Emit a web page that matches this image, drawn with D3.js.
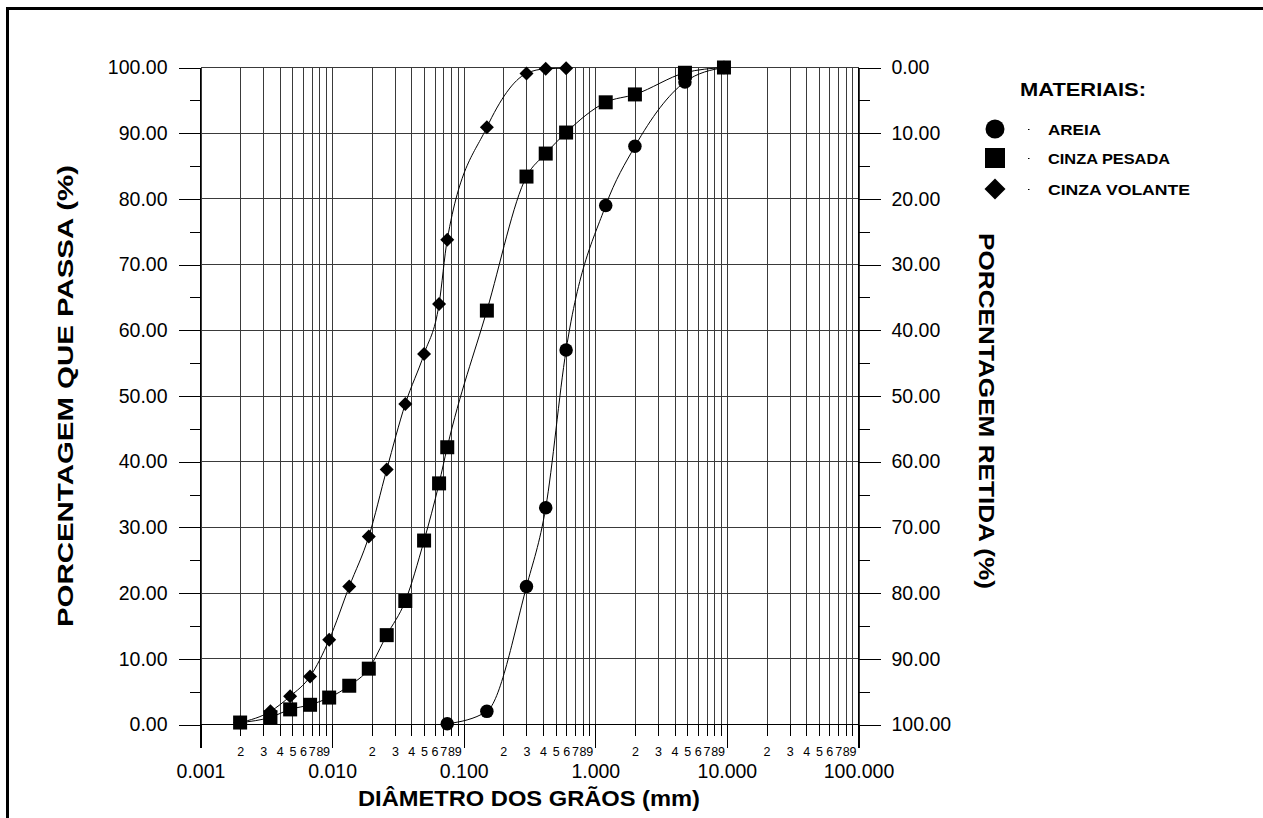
<!DOCTYPE html>
<html>
<head>
<meta charset="utf-8">
<script src="https://cdn.jsdelivr.net/npm/d3@7"></script>
<style>
  html, body { margin: 0; padding: 0; background: #fff; }
  svg { display: block; font-family: "Liberation Sans", Arial, sans-serif; }
</style>
</head>
<body>
<svg id="chart" width="1263" height="818"></svg>
<script>
// Grain-size distribution (curvas granulométricas)
const materials = ["AREIA", "CINZA PESADA", "CINZA VOLANTE"];

// AREIA (sieve analysis)
const areiaDiam = [0.075, 0.15, 0.30, 0.42, 0.60, 1.2, 2.0, 4.8, 9.5];
const areiaPass = [0.1, 2.0, 21.0, 33.0, 57.0, 79.0, 88.0, 97.8, 100.0];

// CINZA PESADA (sedimentation + sieves)
const pesadaDiam = [0.002, 0.0034, 0.0048, 0.0068, 0.0095, 0.0135, 0.019, 0.026, 0.036, 0.050, 0.065, 0.075, 0.15, 0.30, 0.42, 0.60, 1.2, 2.0, 4.8, 9.5];
const pesadaPass = [0.3, 1.1, 2.3, 3.0, 4.1, 5.9, 8.5, 13.6, 18.8, 28.0, 36.7, 42.2, 63.0, 83.4, 86.9, 90.1, 94.7, 95.9, 99.2, 100.0];

// CINZA VOLANTE (sedimentation + sieves)
const volanteDiam = [0.002, 0.0034, 0.0048, 0.0068, 0.0095, 0.0135, 0.019, 0.026, 0.036, 0.050, 0.065, 0.075, 0.15, 0.30, 0.42, 0.60];
const volantePass = [0.3, 2.0, 4.3, 7.3, 12.9, 21.0, 28.6, 38.8, 48.8, 56.4, 64.0, 73.8, 90.9, 99.1, 99.8, 99.9];

// Axis ticks
const decadeTicks = [0.001, 0.01, 0.1, 1, 10, 100];
const passTicks = [0, 10, 20, 30, 40, 50, 60, 70, 80, 90, 100];
const passMinorTicks = [5, 15, 25, 35, 45, 55, 65, 75, 85, 95];

const svg = d3.select("#chart");
const FONT = "'Liberation Sans', Arial, sans-serif";

const x = d3.scaleLog().domain([0.001, 100]).range([200.5, 858.5]);
const y = d3.scaleLinear().domain([0, 100]).range([724.5, 67.5]);

// every 1..9 x 10^k line inside the domain
const allLogLines = [];
decadeTicks.slice(0, -1).forEach(dec => {
  for (let m = 1; m <= 9; m++) allLogLines.push(+(dec * m).toPrecision(6));
});
allLogLines.push(100);
const minorLogTicks = allLogLines.filter(v => !decadeTicks.includes(v));

// outer frame (open on the right and bottom)
svg.append("path")
  .attr("d", "M7.5,830 V8.5 H1280")
  .attr("fill", "none").attr("stroke", "#000").attr("stroke-width", 3);

// grid
const grid = svg.append("g").attr("stroke", "#3a3a3a").attr("stroke-width", 1).attr("shape-rendering", "crispEdges");
grid.selectAll("line.v").data(allLogLines).join("line")
  .attr("x1", d => Math.round(x(d)) + 0.5).attr("x2", d => Math.round(x(d)) + 0.5)
  .attr("y1", y(100)).attr("y2", y(0));
grid.selectAll("line.h").data(passTicks).join("line")
  .attr("x1", x(0.001)).attr("x2", x(100))
  .attr("y1", d => y(d)).attr("y2", d => y(d));

// left axis: passing percentage
const leftMajor = svg.append("g").attr("transform", "translate(200.5,0)")
  .call(d3.axisLeft(y).tickValues(passTicks).tickSize(22).tickPadding(11).tickFormat(d3.format(".2f")));
const leftMinor = svg.append("g").attr("transform", "translate(200.5,0)")
  .call(d3.axisLeft(y).tickValues(passMinorTicks).tickSize(11).tickFormat(""));

// right axis: retained percentage
const yRet = d3.scaleLinear().domain([100, 0]).range([724.5, 67.5]);
const rightMajor = svg.append("g").attr("transform", "translate(858.5,0)")
  .call(d3.axisRight(yRet).tickValues(passTicks).tickSize(22).tickPadding(11).tickFormat(d3.format(".2f")));
const rightMinor = svg.append("g").attr("transform", "translate(858.5,0)")
  .call(d3.axisRight(yRet).tickValues(passMinorTicks).tickSize(11).tickFormat(""));

// bottom axis: decades and the 2..9 marks
const bottomMajor = svg.append("g").attr("transform", "translate(0,724.5)")
  .call(d3.axisBottom(x).tickValues(decadeTicks).tickSize(23).tickPadding(17)
    .tickFormat(d => d3.format(".3f")(d)));
const bottomMinor = svg.append("g").attr("transform", "translate(0,724.5)")
  .call(d3.axisBottom(x).tickValues(minorLogTicks).tickSize(11).tickPadding(12)
    .tickFormat(d => String(Math.round(d / Math.pow(10, Math.floor(Math.log10(d) + 1e-9))))));

[leftMajor, leftMinor, rightMajor, rightMinor, bottomMajor, bottomMinor].forEach(g => {
  g.select(".domain").remove();
  g.selectAll(".tick line").attr("stroke", "#000").attr("shape-rendering", "crispEdges");
  g.selectAll("text").attr("fill", "#000").attr("font-family", FONT);
});
[leftMajor, rightMajor, bottomMajor].forEach(g => g.selectAll("text").attr("font-size", 19.5));
bottomMinor.selectAll("text").attr("font-size", 12.5);

// axis lines (extended below the plot like decade ticks)
svg.append("g").attr("stroke", "#000").attr("shape-rendering", "crispEdges")
  .selectAll("line").data([0.001, 100]).join("line")
  .attr("x1", d => x(d)).attr("x2", d => x(d))
  .attr("y1", y(100)).attr("y2", y(0) + 23);
svg.append("line").attr("stroke", "#000").attr("shape-rendering", "crispEdges")
  .attr("x1", x(0.001)).attr("x2", x(100)).attr("y1", y(0)).attr("y2", y(0));

// axis titles
svg.append("text").attr("x", 529).attr("y", 806).attr("text-anchor", "middle")
  .attr("font-family", FONT).attr("font-weight", "bold").attr("font-size", 22)
  .attr("textLength", 342).attr("lengthAdjust", "spacingAndGlyphs")
  .text("DIÂMETRO DOS GRÃOS (mm)");
svg.append("text").attr("transform", "translate(73,396) rotate(-90)").attr("text-anchor", "middle")
  .attr("font-family", FONT).attr("font-weight", "bold").attr("font-size", 22)
  .attr("textLength", 462).attr("lengthAdjust", "spacingAndGlyphs")
  .text("PORCENTAGEM QUE PASSA (%)");
svg.append("text").attr("transform", "translate(979,411) rotate(90)").attr("text-anchor", "middle")
  .attr("font-family", FONT).attr("font-weight", "bold").attr("font-size", 22)
  .attr("textLength", 356).attr("lengthAdjust", "spacingAndGlyphs")
  .text("PORCENTAGEM RETIDA (%)");

// curves
const line = d3.line().x(d => x(d[0])).y(d => y(d[1])).curve(d3.curveMonotoneX);
const series = [
  { name: "CINZA VOLANTE", diam: volanteDiam, pass: volantePass, shape: "diamond" },
  { name: "AREIA", diam: areiaDiam, pass: areiaPass, shape: "circle" },
  { name: "CINZA PESADA", diam: pesadaDiam, pass: pesadaPass, shape: "square" }
];

function marker(sel, shape, s) {
  if (shape === "circle") return sel.append("circle").attr("r", s * 0.5);
  if (shape === "square") return sel.append("rect").attr("x", -s / 2).attr("y", -s / 2).attr("width", s).attr("height", s);
  const h = s * 0.5;
  return sel.append("path").attr("d", `M0,${-h}L${h},0L0,${h}L${-h},0Z`);
}

const curves = svg.append("g");
series.forEach(s => {
  const pts = s.diam.map((d, i) => [d, s.pass[i]]);
  curves.append("path").datum(pts).attr("d", line)
    .attr("fill", "none").attr("stroke", "#000").attr("stroke-width", 1);
});
const marks = svg.append("g");
series.forEach(s => {
  const sizes = { circle: 13.5, square: 14, diamond: 14 };
  s.diam.forEach((d, i) => {
    const g = marks.append("g").attr("transform", `translate(${x(d)},${y(s.pass[i])})`);
    marker(g, s.shape, sizes[s.shape]).attr("fill", "#000");
  });
});

// legend
const legend = svg.append("g").attr("font-family", FONT).attr("font-weight", "bold");
legend.append("text").attr("x", 1020).attr("y", 96).attr("font-size", 17.5)
  .attr("textLength", 126).attr("lengthAdjust", "spacingAndGlyphs").text("MATERIAIS:");
const legendItems = [
  { name: "AREIA", shape: "circle", cy: 129, len: 53 },
  { name: "CINZA PESADA", shape: "square", cy: 158, len: 122 },
  { name: "CINZA VOLANTE", shape: "diamond", cy: 189, len: 142 }
];
legendItems.forEach(it => {
  const g = legend.append("g").attr("transform", `translate(995,${it.cy})`);
  marker(g, it.shape, it.shape === "circle" ? 19 : it.shape === "square" ? 20 : 21).attr("fill", "#000");
  legend.append("line").attr("x1", 1028).attr("x2", 1029.5).attr("y1", it.cy + 0.5).attr("y2", it.cy + 0.5)
    .attr("stroke", "#000").attr("stroke-width", 1);
  legend.append("text").attr("x", 1048).attr("y", it.cy + 5.5).attr("font-size", 15)
    .attr("textLength", it.len).attr("lengthAdjust", "spacingAndGlyphs").text(it.name);
});
</script>
</body>
</html>
